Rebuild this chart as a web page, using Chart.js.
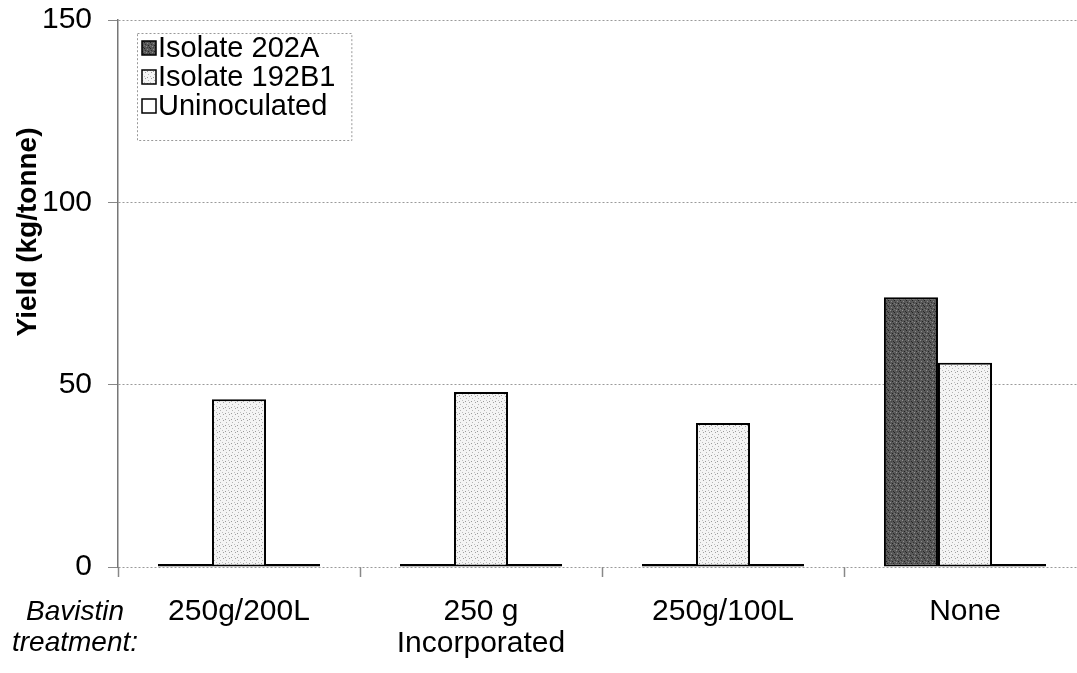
<!DOCTYPE html>
<html>
<head>
<meta charset="utf-8">
<script src="https://cdn.jsdelivr.net/npm/chart.js@4/dist/chart.umd.min.js"></script>
<style>
  html, body { margin: 0; padding: 0; background: #fff; overflow: hidden; }
  canvas { display: block; }
</style>
</head>
<body>
<canvas id="chart" width="1100" height="673"></canvas>
<script>
// Bavistin treatments along the x axis
const categories = [['250g/200L'], ['250 g', 'Incorporated'], ['250g/100L'], ['None']];
const seriesNames = ['Isolate 202A', 'Isolate 192B1', 'Uninoculated'];
// Yield, kg/tonne
const isolate202A = [0, 0, 0, 74];
const isolate192B1 = [46, 48, 39.5, 56];
const uninoculated = [0, 0, 0, 0];
const yTickValues = [0, 50, 100, 150];
const yTitle = 'Yield (kg/tonne)';
const treatmentLabel = ['Bavistin', 'treatment:'];

const FONT = '"Liberation Sans", Arial, sans-serif';

// Stippled fills like the print hatching
function stipple(base, dots) {
  const c = document.createElement('canvas');
  c.width = 6; c.height = 6;
  const g = c.getContext('2d');
  g.fillStyle = base;
  g.fillRect(0, 0, 6, 6);
  dots.forEach(([x, y, col]) => { g.fillStyle = col; g.fillRect(x, y, 1, 1); });
  return g.createPattern(c, 'repeat');
}
const darkFill = stipple('#585858', [
  [0, 0, '#222'], [3, 1, '#8a8a8a'], [1, 2, '#333'], [4, 3, '#222'],
  [2, 4, '#909090'], [5, 5, '#2a2a2a'], [0, 3, '#777'], [3, 5, '#444']
]);
const lightFill = stipple('#f4f4f4', [
  [1, 0, '#a0a0a0'], [4, 2, '#b5b5b5'], [0, 4, '#c0c0c0'], [3, 5, '#9a9a9a']
]);

const fills = [darkFill, lightFill, '#ffffff'];
const values = [isolate202A, isolate192B1, uninoculated];

const datasets = seriesNames.map((name, i) => ({
  label: name,
  data: values[i],
  backgroundColor: fills[i],
  borderColor: '#000',
  borderWidth: 2,
  borderSkipped: false,
  minBarLength: 3,
  categoryPercentage: 0.67,
  barPercentage: 1.0
}));

// Framed legend inside the plot, top-left
const boxLegend = {
  id: 'boxLegend',
  afterDraw(chart) {
    const ctx = chart.ctx;
    const x0 = 137, y0 = 33, rowH = 29, firstY = 48;
    ctx.save();
    ctx.font = '29px ' + FONT;
    let w = 0;
    chart.data.datasets.forEach(d => { w = Math.max(w, ctx.measureText(d.label).width); });
    const boxW = 21 + w + 16, boxH = 107;
    ctx.strokeStyle = '#999';
    ctx.lineWidth = 1;
    ctx.setLineDash([2, 2]);
    ctx.strokeRect(x0 + 0.5, y0 + 0.5, boxW, boxH);
    ctx.setLineDash([]);
    chart.data.datasets.forEach((d, i) => {
      const cy = firstY + i * rowH;
      ctx.fillStyle = d.backgroundColor;
      ctx.fillRect(x0 + 5, cy - 7, 14, 14);
      ctx.strokeStyle = '#000';
      ctx.lineWidth = 1.5;
      ctx.strokeRect(x0 + 5, cy - 7, 14, 14);
      ctx.fillStyle = '#000';
      ctx.textAlign = 'left';
      ctx.textBaseline = 'middle';
      ctx.fillText(d.label, x0 + 21, cy + 1);
    });
    ctx.restore();
  }
};

// Axis title and the row caption left of the category labels
const sideText = {
  id: 'sideText',
  afterDraw(chart) {
    const ctx = chart.ctx;
    ctx.save();
    ctx.fillStyle = '#000';
    ctx.textAlign = 'center';
    ctx.textBaseline = 'middle';
    ctx.font = 'bold 28px ' + FONT;
    ctx.translate(28, 232);
    ctx.rotate(-Math.PI / 2);
    ctx.fillText(yTitle, 0, 0);
    ctx.restore();

    ctx.save();
    ctx.fillStyle = '#000';
    ctx.textAlign = 'center';
    ctx.textBaseline = 'middle';
    ctx.font = 'italic 28px ' + FONT;
    ctx.fillText(treatmentLabel[0], 75, 612);
    ctx.fillText(treatmentLabel[1], 75, 643);
    ctx.restore();
  }
};

new Chart(document.getElementById('chart'), {
  type: 'bar',
  data: { labels: categories, datasets },
  plugins: [boxLegend, sideText],
  options: {
    responsive: false,
    animation: false,
    layout: { padding: { top: 20, right: 14, left: 0, bottom: 0 } },
    plugins: { legend: { display: false }, tooltip: { enabled: false } },
    scales: {
      x: {
        afterFit(s) { s.height = 106; s.paddingLeft = 0; s.paddingRight = 0; },
        grid: {
          offset: true,
          drawOnChartArea: false,
          drawTicks: true,
          tickLength: 10,
          tickColor: '#888',
          tickWidth: 1.5
        },
        border: { display: false },
        ticks: {
          color: '#000',
          padding: 19,
          maxRotation: 0,
          font: { family: FONT, size: 30, lineHeight: 1.05 }
        }
      },
      y: {
        min: 0,
        max: 150,
        afterFit(s) { s.width = 118; s.paddingTop = 0; s.paddingBottom = 0; },
        afterBuildTicks(s) { s.ticks = yTickValues.map(v => ({ value: v })); },
        grid: {
          color: '#9a9a9a',
          lineWidth: 1,
          drawTicks: true,
          tickLength: 10,
          tickColor: '#888',
          tickBorderDash: []
        },
        border: { display: true, color: '#777', width: 1.5, dash: [2, 2] },
        ticks: {
          color: '#000',
          padding: 16,
          font: { family: FONT, size: 30 }
        }
      }
    }
  }
});
</script>
</body>
</html>
